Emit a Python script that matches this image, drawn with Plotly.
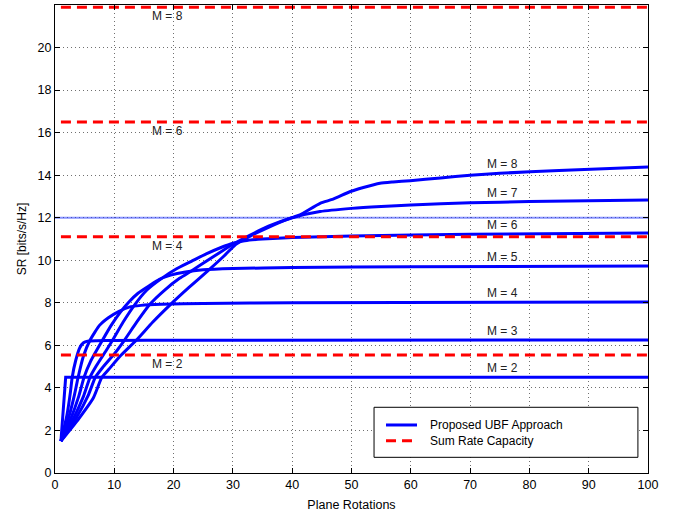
import numpy as np
import plotly.graph_objects as go

# Sum rate of the proposed UBF approach vs. number of plane rotations, per M
m2_x = [1, 1.8, 100]
m2_y = [1.5, 4.5, 4.5]

m3_x = [1, 2.0, 2.6, 2.9, 3.5, 4.2, 4.8, 5.5, 7, 10, 20, 100]
m3_y = [1.5, 2.7, 3.8, 4.5, 5.3, 5.9, 6.12, 6.2, 6.22, 6.23, 6.24, 6.25]

m4_x = [1, 2.3, 3.3, 3.9, 4.8, 5.9, 7.5, 9, 10.8, 12.5, 14.5, 18, 25, 40, 100]
m4_y = [1.5, 2.6, 3.7, 4.5, 5.5, 6.24, 6.94, 7.3, 7.6, 7.8, 7.88, 7.93, 7.97, 8.0, 8.04]

m5_x = [1, 2.6, 4, 4.9, 6, 8, 9.5, 11, 12.5, 14, 15.9, 17.6, 19.5, 22, 25, 30, 40, 60, 100]
m5_y = [1.5, 2.5, 3.6, 4.5, 5.25, 6.24, 6.95, 7.55, 8.05, 8.45, 8.8, 9.1, 9.3, 9.45, 9.55,
        9.61, 9.66, 9.7, 9.73]

m6_x = [1, 3, 4.8, 5.9, 7, 8.5, 9.7, 11.5, 13.5, 15.5, 18, 20.5, 23, 25.5, 28, 30, 32, 35,
        40, 50, 70, 100]
m6_y = [1.5, 2.5, 3.6, 4.5, 5.05, 5.7, 6.24, 7.1, 7.93, 8.6, 9.15, 9.6, 9.95, 10.3, 10.6,
        10.8, 10.92, 11.0, 11.07, 11.14, 11.22, 11.28]

m7_x = [1, 3.5, 5.6, 6.8, 8, 10, 11.7, 13.8, 16, 18.5, 21, 23, 25.5, 28, 30, 33, 36, 40,
        44.7, 50, 55, 60, 70, 80, 100]
m7_y = [1.5, 2.55, 3.65, 4.5, 4.95, 5.6, 6.24, 7.1, 7.93, 8.6, 9.15, 9.5, 9.95, 10.4, 10.75,
        11.2, 11.6, 12.0, 12.29, 12.44, 12.53, 12.6, 12.7, 12.76, 12.83]

m8_x = [1, 4, 6.5, 7.9, 9, 11, 13.7, 16.5, 19.5, 22.5, 26, 28.5, 30.5, 33, 36, 39.6, 41.3,
        44.7, 46.9, 49.7, 52, 54.8, 57, 59.9, 65, 70, 75, 85, 100]
m8_y = [1.5, 2.55, 3.55, 4.5, 4.85, 5.5, 6.24, 7.1, 7.93, 8.7, 9.56, 10.2, 10.75, 11.15,
        11.55, 11.97, 12.13, 12.68, 12.87, 13.22, 13.42, 13.62, 13.68, 13.74, 13.87, 14.0,
        14.09, 14.22, 14.39]

ubf_curves = {
    "M = 2": (m2_x, m2_y),
    "M = 3": (m3_x, m3_y),
    "M = 4": (m4_x, m4_y),
    "M = 5": (m5_x, m5_y),
    "M = 6": (m6_x, m6_y),
    "M = 7": (m7_x, m7_y),
    "M = 8": (m8_x, m8_y),
}

# Sum rate capacity levels
capacity_labels = ["M = 2", "M = 4", "M = 6", "M = 8"]
capacity_values = [5.55, 11.1, 16.5, 21.9]
capacity_x = [1, 100]

# Reference level at 12 bits/s/Hz
ref_level = 12.0

x_ticks = list(range(0, 101, 10))
y_ticks = list(range(0, 23, 2))

legend_entries = ["Proposed UBF Approach", "Sum Rate Capacity"]

FONT = "Helvetica, Liberation Sans, Arial, sans-serif"
BLUE = "#0000ff"
RED = "#ff0000"
RED_DASH = "10px,6px"

fig = go.Figure()

fig.add_trace(go.Scatter(
    x=[0, 100], y=[ref_level, ref_level], mode="lines",
    line=dict(color="rgba(40,60,255,0.55)", width=2),
    showlegend=False, hoverinfo="skip"))

for name, (xs, ys) in ubf_curves.items():
    # two-segment step curve stays straight; the others are smoothed
    shape = "linear" if len(xs) < 4 else "spline"
    fig.add_trace(go.Scatter(
        x=xs, y=ys, mode="lines", name=name,
        line=dict(color=BLUE, width=3, shape=shape, smoothing=0.5),
        showlegend=False))

for name, val in zip(capacity_labels, capacity_values):
    fig.add_trace(go.Scatter(
        x=capacity_x, y=[val, val], mode="lines", name=name,
        line=dict(color=RED, width=3, dash=RED_DASH),
        showlegend=False))

annotations = []
for name, (xs, ys) in ubf_curves.items():
    annotations.append(dict(
        x=75.5, y=float(np.interp(75, xs, ys)), text=name, showarrow=False,
        xanchor="center", yanchor="bottom", yshift=0,
        font=dict(family=FONT, size=12, color="#222")))
for name, val in zip(capacity_labels, capacity_values):
    annotations.append(dict(
        x=19, y=val, text=name, showarrow=False,
        xanchor="center", yanchor="top", yshift=0,
        font=dict(family=FONT, size=12, color="#222")))

# Boxed legend in the lower right of the axes
box_x0, box_x1, box_y0, box_y1 = 0.538, 0.983, 0.0335, 0.1404
sample_x0, sample_x1, text_x = 0.5582, 0.6105, 0.6290
row_y = [0.1026, 0.069]
shapes = [dict(type="rect", xref="paper", yref="paper",
               x0=box_x0, x1=box_x1, y0=box_y0, y1=box_y1,
               line=dict(color="black", width=1), fillcolor="white", layer="above")]
shapes.append(dict(type="line", xref="paper", yref="paper",
                   x0=sample_x0, x1=sample_x1, y0=row_y[0], y1=row_y[0],
                   line=dict(color=BLUE, width=3), layer="above"))
shapes.append(dict(type="line", xref="paper", yref="paper",
                   x0=sample_x0, x1=sample_x0 + 0.0438, y0=row_y[1], y1=row_y[1],
                   line=dict(color=RED, width=3, dash=RED_DASH), layer="above"))
for text, yy in zip(legend_entries, row_y):
    annotations.append(dict(
        xref="paper", yref="paper", x=text_x, y=yy, text=text, showarrow=False,
        xanchor="left", yanchor="middle",
        font=dict(family=FONT, size=12, color="black")))

axis_common = dict(
    showline=True, linecolor="black", linewidth=1, mirror="allticks",
    ticks="inside", ticklen=5, tickcolor="black",
    showgrid=True, gridcolor="#707070", griddash="1px,3px", gridwidth=1,
    zeroline=False, tickfont=dict(family=FONT, size=12.5, color="black"),
)

fig.update_layout(
    width=680, height=516,
    margin=dict(l=55, r=32, t=5, b=43),
    paper_bgcolor="white", plot_bgcolor="white",
    font=dict(family=FONT, size=12, color="black"),
    showlegend=False,
    annotations=annotations,
    shapes=shapes,
    xaxis=dict(axis_common, range=[0, 100], tickvals=x_ticks,
               title=dict(text="Plane Rotations", font=dict(family=FONT, size=12.5),
                          standoff=9)),
    yaxis=dict(axis_common, range=[0, 22], tickvals=y_ticks,
               title=dict(text="SR [bits/s/Hz]", font=dict(family=FONT, size=12),
                          standoff=8)),
)

fig.write_html("out.html")
